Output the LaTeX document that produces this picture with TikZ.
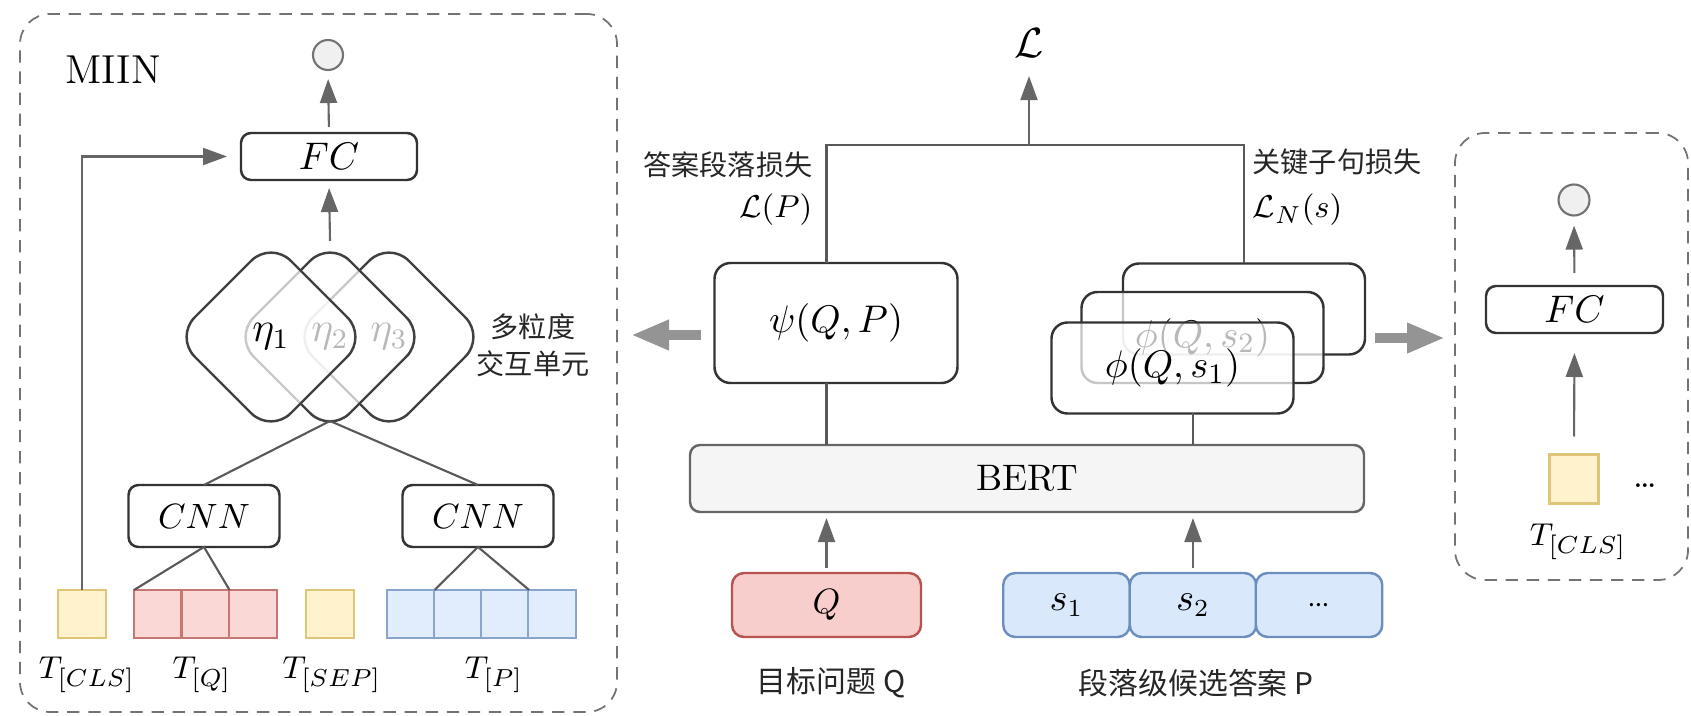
\documentclass[tikz,border=0pt]{standalone}
\usepackage{fontspec}
\newfontfamily\cjk{Noto Sans CJK SC}
\usetikzlibrary{arrows.meta,shapes.geometric}

\definecolor{clsfill}{HTML}{FFF2CC}
\definecolor{clsdraw}{HTML}{D6B656}
\definecolor{qfill}{HTML}{F8CECC}
\definecolor{qdraw}{HTML}{B85450}
\definecolor{pfill}{HTML}{DAE8FC}
\definecolor{pdraw}{HTML}{6C8EBF}

\tikzset{
  panel/.style={draw=black!55, line width=0.5pt, dash pattern=on 3.5pt off 2.5pt, rounded corners=3mm, inner sep=0pt, outer sep=0pt},
  box/.style={draw=black!80, line width=0.7pt, fill=white, rounded corners=1mm, inner sep=0pt, outer sep=0pt},
  unit/.style={diamond, aspect=1, draw=black!75, line width=0.7pt, rounded corners=2.8mm, fill=white, fill opacity=0.72, text opacity=1, minimum size=1.92cm, inner sep=0pt, outer sep=0pt, font=\fontsize{12}{14}\selectfont},
  phibox/.style={box, rounded corners=1.6mm, fill opacity=0.72, text opacity=1, minimum width=2.42cm, minimum height=0.91cm, font=\fontsize{11}{13}\selectfont},
  token/.style={minimum size=0.48cm, inner sep=0pt, outer sep=0pt, line width=0.6pt},
  tokcls/.style={token, draw=clsdraw!80, fill=clsfill},
  tokq/.style={token, draw=qdraw!80, fill=qfill!80},
  tokp/.style={token, draw=pdraw!80, fill=pfill!80},
  inbox/.style={rounded corners=1.2mm, line width=0.7pt, inner sep=0pt, outer sep=0pt, minimum height=0.64cm},
  outc/.style={circle, draw=black!55, fill=black!6, minimum size=0.30cm, inner sep=0pt, line width=0.6pt},
  link/.style={draw=black!65, line width=0.6pt},
  arr/.style={draw=black!60, line width=0.6pt, -{Triangle[length=2.4mm,width=1.7mm]}},
  bigarrow/.style={draw=black!42, line width=1mm, -{Triangle[length=3.8mm,width=2.8mm]}},
  cjklabel/.style={font=\cjk\fontsize{8}{10.5}\selectfont, text=black!85, inner sep=0pt},
  tlabel/.style={font=\fontsize{9.5}{11}\selectfont, inner sep=0pt},
}

\begin{document}
\begin{tikzpicture}[font=\fontsize{10}{12}\selectfont]
  \useasboundingbox (0,0) rectangle (16.91,-7.16);

  % MIIN panel
  \node[panel, minimum width=5.97cm, minimum height=6.98cm] (miin) at (3.185,-3.63) {};
  \node[font=\fontsize{11.5}{13}\selectfont] (miinlabel) at (1.13,-0.70) {MIIN};
  \node[outc] (lout) at (3.28,-0.55) {};
  \node[box, minimum width=1.76cm, minimum height=0.47cm, font=\fontsize{10.5}{12}\selectfont] (lfc) at (3.29,-1.565) {$FC$};
  \node[unit] (eta3) at (3.89,-3.37) {$\eta_3$};
  \node[unit] (eta2) at (3.30,-3.37) {$\eta_2$};
  \node[unit] (eta1) at (2.71,-3.37) {$\eta_1$};
  \node[cjklabel, align=center] (granlabel) at (5.33,-3.45) {多粒度\\交互单元};
  \node[box, minimum width=1.51cm, minimum height=0.62cm] (cnnq) at (2.04,-5.16) {$CNN$};
  \node[box, minimum width=1.51cm, minimum height=0.62cm] (cnnp) at (4.78,-5.16) {$CNN$};
  \node[tokcls] (cls) at (0.82,-6.14) {};
  \foreach \i/\x in {1/1.58,2/2.055,3/2.53}
    \node[tokq] (q\i) at (\x,-6.14) {};
  \node[tokcls] (sep) at (3.30,-6.14) {};
  \foreach \i/\x in {1/4.106,2/4.579,3/5.051,4/5.524}
    \node[tokp] (p\i) at (\x,-6.14) {};
  \node[tlabel] (clslabel) at (0.87,-6.75) {$T_{[CLS]}$};
  \node[tlabel] (qlabel) at (2.02,-6.75) {$T_{[Q]}$};
  \node[tlabel] (seplabel) at (3.32,-6.75) {$T_{[SEP]}$};
  \node[tlabel] (plabel) at (4.94,-6.75) {$T_{[P]}$};

  \draw[arr, shorten <=0.6mm, shorten >=0.8mm] (lfc.north) -- (lout.south);
  \draw[arr, shorten >=0.8mm] (eta2.north) -- (lfc.south);
  \draw[arr, shorten >=1.4mm] (cls.north) |- (lfc.west);
  \draw[link] (cnnq.north) -- ([yshift=1.2mm]eta2.south);
  \draw[link] (cnnp.north) -- ([yshift=1.2mm]eta2.south);
  \draw[link] (q1.north west) -- (cnnq.south) -- (q2.north east);
  \draw[link] (p1.north east) -- (cnnp.south) -- (p3.north east);

  % main model
  \node[inner sep=0pt, font=\fontsize{12}{14}\selectfont] (loss) at (10.29,-0.43) {$\mathcal{L}$};
  \coordinate (lossbar) at (10.29,-1.45);
  \node[cjklabel, anchor=east] (lpname) at (8.13,-1.65) {答案段落损失};
  \node[anchor=east, inner sep=0pt, font=\fontsize{9.5}{11}\selectfont] (lp) at (8.13,-2.10) {$\mathcal{L}(P)$};
  \node[cjklabel, anchor=west] (lnname) at (12.52,-1.62) {关键子句损失};
  \node[anchor=west, inner sep=0pt, font=\fontsize{9.5}{11}\selectfont] (ln) at (12.52,-2.10) {$\mathcal{L}_N(s)$};
  \node[box, rounded corners=1.6mm, minimum width=2.43cm, minimum height=1.20cm, font=\fontsize{11}{13}\selectfont] (psi) at (8.36,-3.23) {$\psi(Q,P)$};
  \node[phibox] (phi3) at (12.44,-3.09) {};
  \node[phibox] (phi2) at (12.025,-3.375) {$\phi(Q,s_2)$};
  \node[phibox] (phi1) at (11.725,-3.68) {$\phi(Q,s_1)$};
  \node[box, draw=black!60, fill=black!4, minimum width=6.74cm, minimum height=0.67cm, font=\fontsize{10.5}{12}\selectfont] (bert) at (10.27,-4.785) {BERT};
  \node[inbox, draw=qdraw, fill=qfill, minimum width=1.89cm] (q) at (8.265,-6.05) {$Q$};
  \foreach \i/\x/\t in {1/10.665/$s_1$,2/11.93/$s_2$,3/13.19/{\cjk\fontsize{7}{8}\selectfont ...}}
    \node[inbox, draw=pdraw, fill=pfill, minimum width=1.265cm, font=\fontsize{10.5}{12}\selectfont] (s\i) at (\x,-6.05) {\t};
  \node[cjklabel, font=\cjk\fontsize{8.5}{10}\selectfont] (qname) at (8.31,-6.83) {目标问题 Q};
  \node[cjklabel, font=\cjk\fontsize{8.5}{10}\selectfont] (pname) at (11.96,-6.83) {段落级候选答案 P};

  \draw[link] (psi.north -| q) |- (lossbar) -| (phi3.north);
  \draw[arr, shorten >=1.8mm] (lossbar) -- (loss.south);
  \draw[link] (psi.south -| q) -- (bert.north -| q);
  \draw[link] (phi1.south -| s2) -- (bert.north -| s2);
  \draw[arr, shorten <=0.5mm, shorten >=0.6mm] (q.north) -- (bert.south -| q);
  \draw[arr, shorten <=0.5mm, shorten >=0.6mm] (s2.north) -- (bert.south -| s2);

  % output head panel
  \node[panel, minimum width=2.33cm, minimum height=4.47cm] (rpanel) at (15.715,-3.565) {};
  \node[outc, minimum size=0.31cm] (rout) at (15.74,-2.00) {};
  \node[box, minimum width=1.77cm, minimum height=0.47cm, font=\fontsize{10.5}{12}\selectfont] (rfc) at (15.745,-3.095) {$FC$};
  \node[tokcls, minimum size=0.49cm] (rcls) at (15.74,-4.79) {};
  \node[inner sep=0pt] (rdots) at (16.45,-4.86) {\ldots};
  \node[tlabel] (rclslabel) at (15.78,-5.42) {$T_{[CLS]}$};
  \draw[arr, shorten <=1.3mm, shorten >=0.9mm] (rfc.north) -- (rout.south);
  \draw[arr, shorten <=1.8mm, shorten >=2mm] (rcls.north) -- (rfc.south);

  % hand-over arrows
  \coordinate (lpass) at (psi.west -| miin.east);
  \coordinate (rpass) at (phi3.east -| rpanel.west);
  \draw[bigarrow] ([shift={(-0.14,-0.12)}]psi.west) -- ([shift={(0.14,-0.12)}]lpass);
  \draw[bigarrow] ([shift={(0.10,-0.29)}]phi3.east) -- ([shift={(-0.10,-0.29)}]rpass);
\end{tikzpicture}
\end{document}
